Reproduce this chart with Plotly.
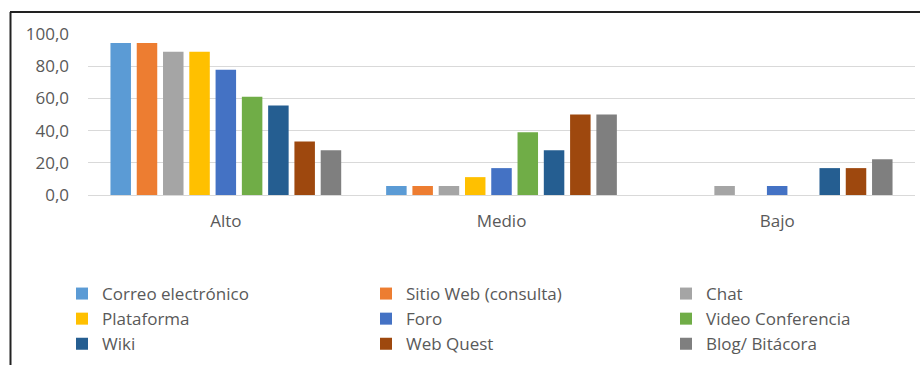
import plotly.graph_objects as go

# Nivel de uso por herramienta (porcentaje de respuestas)
niveles = ["Alto", "Medio", "Bajo"]
herramientas = [
    "Correo electrónico", "Sitio Web (consulta)", "Chat",
    "Plataforma", "Foro", "Video Conferencia",
    "Wiki", "Web Quest", "Blog/ Bitácora",
]
correo = [94.4, 5.6, 0.0]
sitio_web = [94.4, 5.6, 0.0]
chat = [88.9, 5.6, 5.6]
plataforma = [88.9, 11.1, 0.0]
foro = [77.8, 16.7, 5.6]
video = [61.1, 38.9, 0.0]
wiki = [55.6, 27.8, 16.7]
web_quest = [33.3, 50.0, 16.7]
blog = [27.8, 50.0, 22.2]
valores = [correo, sitio_web, chat, plataforma, foro, video, wiki, web_quest, blog]
colores = ["#5B9BD5", "#ED7D31", "#A5A5A5", "#FFC000", "#4472C4",
           "#70AD47", "#255E91", "#9E480E", "#7F7F7F"]
y_ticks = [0, 20, 40, 60, 80, 100]

W, H = 920, 365
ML, MR, MT, MB = 88, 5, 34, 170
PW, PH = W - ML - MR, H - MT - MB


def px_x(x):
    return (x - ML) / PW


def px_y(y):
    return (H - MB - y) / PH


font = "Open Sans"
gris = "#595959"

# three legend columns, filled row by row
legend_ids = ["legend", "legend2", "legend3"]
legend_x = [62, 366, 666]

fig = go.Figure()
for i, (nombre, vals, col) in enumerate(zip(herramientas, valores, colores)):
    fig.add_trace(go.Bar(x=niveles, y=vals, name=nombre, marker_color=col,
                         marker_line_width=0, legend=legend_ids[i % 3]))

legend_common = dict(
    orientation="v", yanchor="top", xanchor="left", y=px_y(276),
    font=dict(family=font, size=17, color=gris),
    bgcolor="rgba(0,0,0,0)", traceorder="normal", borderwidth=0,
)

fig.update_layout(
    width=W, height=H,
    margin=dict(l=ML, r=MR, t=MT, b=MB, pad=0, autoexpand=False),
    paper_bgcolor="white", plot_bgcolor="white",
    separators=",.",
    barmode="group", bargap=0.142, bargroupgap=0.22,
    font=dict(family=font, size=17, color=gris),
    showlegend=True,
    legend=dict(x=px_x(legend_x[0]), **legend_common),
    legend2=dict(x=px_x(legend_x[1]), **legend_common),
    legend3=dict(x=px_x(legend_x[2]), **legend_common),
    xaxis=dict(showgrid=False, showline=False, ticks="", ticklabelstandoff=14,
               tickfont=dict(family=font, size=17, color=gris)),
    yaxis=dict(range=[0, 100], tickvals=y_ticks, tickformat=".1f",
               showgrid=True, gridcolor="#D9D9D9", gridwidth=1,
               zeroline=True, zerolinecolor="#D9D9D9", zerolinewidth=1,
               showline=False, ticks="", ticklabelstandoff=18,
               tickfont=dict(family=font, size=17, color=gris)),
    shapes=[
        dict(type="line", xref="paper", yref="paper",
             x0=px_x(10), x1=px_x(925), y0=px_y(12), y1=px_y(12),
             line=dict(color="#222222", width=2)),
        dict(type="line", xref="paper", yref="paper",
             x0=px_x(10.5), x1=px_x(10.5), y0=px_y(12), y1=px_y(370),
             line=dict(color="#222222", width=2)),
    ],
)

fig.write_html("out.html")
